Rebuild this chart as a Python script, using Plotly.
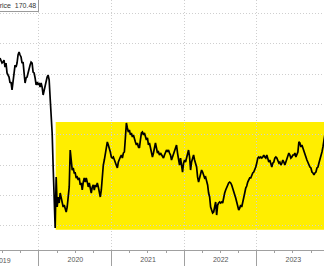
import pandas as pd
import plotly.graph_objects as go

# Price series, evenly spaced samples
start_date = "2019-06-19"
end_date = "2023-12-24"
price = [
    210.5, 209.2, 207.2, 207.9, 209.2, 204.6, 207.2, 200.7, 199.3, 198.0,
    194.1, 194.7, 189.5, 196.1, 202.6, 205.9, 204.6, 207.2, 212.5, 214.5,
    212.5, 211.2, 207.2, 207.9, 200.7, 194.1, 197.4, 198.0, 200.7, 204.6,
    205.9, 207.9, 207.2, 201.3, 200.7, 197.4, 192.8, 194.7, 192.8, 194.1,
    191.4, 194.1, 191.4, 186.2, 189.5, 191.4, 194.1, 198.0, 199.3, 196.1,
    184.2, 171.7, 161.2, 138.8, 119.1, 98.7, 132.2, 112.5, 119.1, 115.1,
    121.7, 118.4, 115.1, 112.5, 113.8, 110.5, 109.2, 112.5, 119.1, 125.7,
    150.0, 141.4, 136.8, 138.2, 134.9, 134.9, 131.6, 132.2, 130.3, 131.6,
    127.0, 128.3, 123.7, 128.9, 131.6, 128.9, 131.6, 128.9, 125.7, 128.3,
    125.7, 121.7, 125.7, 127.0, 123.7, 127.0, 125.7, 128.3, 125.7, 121.7,
    119.1, 123.7, 134.9, 140.1, 143.4, 146.7, 151.3, 155.3, 153.3, 151.3,
    148.7, 145.4, 144.7, 145.4, 143.4, 142.1, 140.1, 138.2, 142.1, 144.7,
    145.4, 146.7, 144.7, 148.0, 148.7, 157.9, 167.8, 164.5, 161.8, 163.2,
    159.9, 161.2, 158.6, 159.9, 156.6, 155.3, 153.3, 154.6, 152.0, 151.3,
    156.6, 161.2, 161.8, 159.9, 161.2, 158.6, 156.6, 157.9, 153.3, 154.6,
    151.3, 150.0, 145.4, 148.0, 152.0, 154.6, 151.3, 148.0, 148.7, 146.7,
    148.0, 146.7, 145.4, 144.7, 146.7, 148.7, 150.0, 148.7, 150.0, 148.0,
    146.7, 143.4, 145.4, 146.7, 148.7, 150.0, 153.3, 148.0, 142.1, 140.1,
    144.7, 138.8, 135.5, 141.4, 143.4, 142.1, 145.4, 148.0, 150.0, 145.4,
    136.8, 142.1, 144.7, 146.7, 143.4, 141.4, 138.8, 132.2, 128.9, 131.6,
    135.5, 136.8, 135.5, 133.6, 131.6, 132.2, 130.3, 127.0, 121.7, 119.1,
    112.5, 110.5, 108.6, 109.2, 112.5, 115.8, 107.2, 113.8, 115.1, 115.8,
    115.1, 115.8, 115.1, 119.1, 121.7, 123.7, 125.7, 127.0, 128.3, 128.9,
    128.3, 127.0, 125.0, 123.7, 120.4, 118.4, 115.8, 112.5, 110.5, 111.8,
    113.8, 112.5, 115.1, 118.4, 121.7, 125.0, 126.3, 128.9, 130.3, 131.6,
    131.6, 133.6, 134.9, 135.5, 136.8, 138.8, 141.4, 144.7, 145.4, 144.7,
    145.4, 144.7, 145.4, 146.7, 145.4, 144.7, 146.7, 144.7, 142.1, 143.4,
    141.4, 138.8, 141.4, 142.1, 144.7, 145.4, 144.7, 143.4, 141.4, 142.1,
    140.1, 141.4, 143.4, 142.1, 140.1, 142.1, 144.7, 145.4, 148.0, 146.7,
    144.7, 145.4, 146.7, 146.7, 148.0, 145.4, 146.7, 148.7, 155.3, 154.6,
    152.0, 153.3, 151.3, 148.7, 148.0, 145.4, 143.4, 141.4, 140.1, 138.8,
    138.2, 135.5, 134.9, 133.6, 134.9, 135.5, 138.2, 138.8, 141.4, 143.4,
    146.7, 148.7, 152.0, 156.6, 163.2, 165.1, 168.0, 170.48,
]
last_price = 170.48

# Highlighted range (rectangle)
box_start = "2020-03-25"
box_end = "2024-06-30"
box_low = 97.5
box_high = 168.4

# Axis ranges and the partially visible first year label
x_range = ["2019-06-19", "2023-12-04"]
y_range = [84.2, 248.7]
first_year_label = "2019"
first_year_mid = "2019-07-02"

dates = pd.date_range(start_date, end_date, periods=len(price))
tick_font = dict(family="Liberation Sans, Arial", size=7, color="#555555")

fig = go.Figure()
fig.add_trace(go.Scatter(
    x=dates, y=price, mode="lines",
    line=dict(color="#000000", width=1.7),
    hoverinfo="skip", showlegend=False,
))

fig.add_shape(
    type="rect", xref="x", yref="y",
    x0=box_start, x1=box_end, y0=box_low, y1=box_high,
    fillcolor="#FFEE00", line=dict(width=0), layer="below",
)

fig.add_annotation(
    xref="paper", yref="paper", x=0.121, y=1.006,
    xanchor="right", yanchor="top",
    text=f"Price  {last_price:.2f}", showarrow=False,
    font=dict(family="Liberation Sans, Arial", size=7, color="#333333"),
    bgcolor="#ffffff", bordercolor="#9a9a9a", borderwidth=1, borderpad=2,
)

# Year label of the partially visible first period (plotly skips it)
fig.add_annotation(
    xref="x", yref="paper", x=first_year_mid, y=-0.042,
    xanchor="center", yanchor="middle",
    text=first_year_label, showarrow=False, font=tick_font,
)

grid_color = "#cfcfcf"
fig.update_xaxes(
    type="date", range=x_range,
    dtick="M12", tick0="2019-01-01", tickformat="%Y",
    ticklabelmode="period",
    showgrid=True, gridcolor=grid_color, griddash="1px,2px", gridwidth=1,
    ticks="outside", ticklen=15, tickcolor="#a0a0a0", tickwidth=1,
    ticklabelstandoff=-12,
    showline=True, linecolor="#a0a0a0", linewidth=1,
    minor=dict(dtick="M3", tick0="2019-01-01", ticks="outside", ticklen=2,
               tickcolor="#a0a0a0", showgrid=False),
    tickfont=tick_font,
    zeroline=False, fixedrange=True,
)
fig.update_yaxes(
    range=y_range, dtick=20, tick0=100,
    showticklabels=False, ticks="",
    showgrid=True, gridcolor=grid_color, griddash="1px,2px", gridwidth=1,
    zeroline=False, showline=False, fixedrange=True,
)

fig.update_layout(
    width=324, height=266,
    margin=dict(l=0, r=0, t=0, b=16),
    paper_bgcolor="#ffffff", plot_bgcolor="#ffffff",
    showlegend=False,
)

fig.write_html("out.html", config={"displayModeBar": False})
